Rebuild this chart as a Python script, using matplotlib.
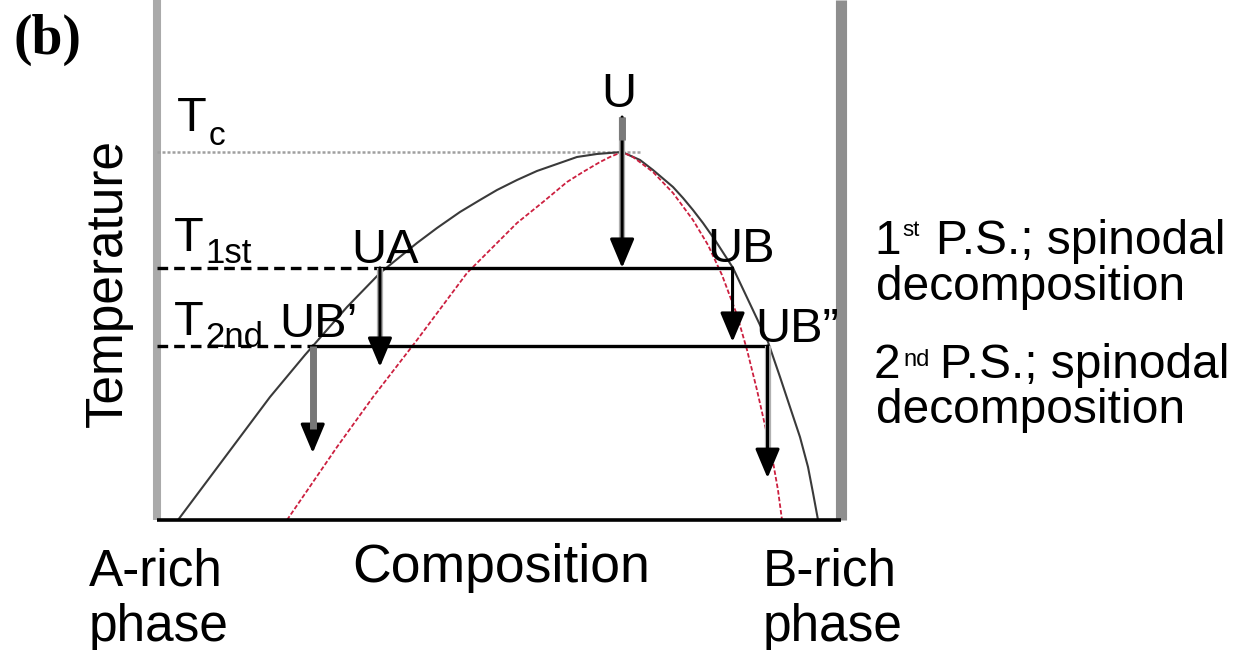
import matplotlib
matplotlib.use('Agg')
import matplotlib.pyplot as plt

plt.rcParams['font.family'] = ['Liberation Sans', 'DejaVu Sans']

W, H = 1247, 650

# binodal curve: composition (0-100) vs temperature (Tc = 100)
binodal_x = [3.06, 16.47, 21.57, 27.70, 32.51, 37.90, 40.82, 44.17, 47.08,
             49.56, 52.48, 55.39, 58.31, 61.22, 64.14, 67.78, 70.41, 72.30,
             75.22, 76.68, 78.13, 79.59, 81.34, 83.97, 89.07, 90.82, 92.27,
             93.73, 94.90, 95.63, 96.36]
binodal_t = [0, 33.42, 44.84, 57.88, 67.12, 75.27, 79.35, 83.70, 86.96,
             89.67, 92.39, 94.84, 96.74, 98.64, 99.46, 100, 97.83, 95.11,
             90.49, 87.50, 84.24, 80.71, 76.09, 68.48, 48.37, 38.86, 30.71,
             22.55, 14.40, 7.34, 0]

# spinodal curve
spinodal_x = [18.95, 26.24, 31.49, 37.90, 45.19, 49.27, 52.48, 56.27, 59.77,
              62.10, 64.58, 66.03, 67.78, 69.39, 72.30, 75.22, 78.13, 80.32,
              82.36, 84.55, 86.01, 87.46, 88.78, 89.80, 90.52, 91.11]
spinodal_t = [0, 19.84, 33.42, 48.91, 67.12, 74.73, 80.71, 86.41, 91.85,
              94.57, 97.28, 98.64, 100, 98.64, 94.57, 88.86, 81.52, 74.73,
              66.58, 55.71, 46.20, 35.33, 24.46, 15.76, 8.15, 0]

t_critical = 100
t_critical_end = 70.4

# quench temperatures and the compositions where the tie lines meet the binodal
quench_names = ['1st', '2nd']
quench_t = [68.5, 47.3]
tie_left = [32.5, 22.7]
tie_right = [83.9, 89.0]

# decomposition arrows: label, composition, start T, end T
arrow_labels = ['U', 'UA', 'UB', 'UB\u2019', 'UB\u201d']
arrow_x = [67.8, 32.5, 83.9, 22.7, 89.0]
arrow_start = [109.5, 68.5, 68.5, 47.3, 47.3]
arrow_end = [68.5, 41.6, 48.4, 18.2, 11.4]

t_top = 141.3
x_right = 99.7

fig = plt.figure(figsize=(W / 100, H / 100), dpi=100)
ax = fig.add_axes([157 / W, 130 / H, 686 / W, 520 / H])
ax.set_xlim(0, 100)
ax.set_ylim(0, t_top)
ax.axis('off')


def put(xp, yp, s, **kw):
    # place text by pixel position (origin top left)
    fig.text(xp / W, 1 - yp / H, s, **kw)


# frame: gray side bars and black composition axis
ax.plot([0, 0], [0, t_top], color='#aaaaaa', lw=5.8, clip_on=False,
        solid_capstyle='butt')
ax.plot([x_right, x_right], [0, t_top], color='#8e8e8e', lw=8, clip_on=False,
        solid_capstyle='butt')

# critical temperature
ax.plot([0, t_critical_end], [t_critical, t_critical], color='#a0a0a0',
        lw=1.8, ls=(0, (1.2, 0.8)))

ax.plot(binodal_x, binodal_t, color='#3a3a3a', lw=1.5, zorder=3)
ax.plot(spinodal_x, spinodal_t, color='#cc1f3f', lw=1.3,
        ls=(0, (2.5, 1.2)), zorder=3)

for t, xl, xr in zip(quench_t, tie_left, tie_right):
    ax.plot([0, xl], [t, t], color='black', lw=2.4, ls=(0, (3.2, 1.8)),
            zorder=4)
    ax.plot([xl, xr], [t, t], color='black', lw=2.4, zorder=4,
            solid_capstyle='butt')

ax.plot([0, x_right], [0, 0], color='black', lw=2.6, clip_on=False, zorder=5,
        solid_capstyle='butt')

# soft gray halo behind the arrow shafts
for i in [0, 1, 4]:
    ax.plot([arrow_x[i]] * 2, [arrow_start[i], arrow_end[i] + 6],
            color='#b0b0b0', lw=4.5, zorder=5, solid_capstyle='butt')

for lab, x, t0, t1 in zip(arrow_labels, arrow_x, arrow_start, arrow_end):
    ax.annotate('', xy=(x, t1), xytext=(x, t0),
                arrowprops=dict(arrowstyle='-|>,head_length=1.0,head_width=0.42',
                                mutation_scale=18, color='black', lw=2.2,
                                shrinkA=0, shrinkB=0), zorder=6)

# wide gray shaft on the UB' arrow and gray tail on U
ax.plot([arrow_x[3]] * 2, [arrow_start[3], arrow_end[3] + 6.5], color='#777777',
        lw=5, zorder=7, solid_capstyle='butt')
ax.plot([arrow_x[0]] * 2, [arrow_start[0], arrow_start[0] - 6.3], color='#7a7a7a',
        lw=5, zorder=7, solid_capstyle='butt')

lab_fs = 35
ax.annotate(arrow_labels[0], xy=(arrow_x[0], arrow_start[0]), xytext=(-3, 10),
            textcoords='offset pixels', ha='center', va='baseline', fontsize=lab_fs)
ax.annotate(arrow_labels[1], xy=(tie_left[0], quench_t[0]), xytext=(5, 5),
            textcoords='offset pixels', ha='center', va='baseline', fontsize=lab_fs)
ax.annotate(arrow_labels[2], xy=(tie_right[0], quench_t[0]), xytext=(9, 6),
            textcoords='offset pixels', ha='center', va='baseline', fontsize=lab_fs)
ax.annotate(arrow_labels[3], xy=(tie_left[1], quench_t[1]), xytext=(-33, 9),
            textcoords='offset pixels', ha='left', va='baseline', fontsize=lab_fs)
ax.annotate(arrow_labels[4], xy=(tie_right[1], quench_t[1]), xytext=(-12, 4),
            textcoords='offset pixels', ha='left', va='baseline', fontsize=lab_fs)

# temperature labels
put(177, 131, 'T', fontsize=35, va='baseline')
put(209, 145, 'c', fontsize=24, va='baseline')
put(174, 251, 'T', fontsize=35, va='baseline')
put(205, 263, quench_names[0], fontsize=25, va='baseline')
put(174, 335, 'T', fontsize=35, va='baseline')
put(205, 347, quench_names[1], fontsize=25, va='baseline')

put(13, 54, '(b)', fontsize=40, fontweight='bold', va='baseline',
    family='Liberation Serif')

fig.text(122 / W, 1 - 283 / H, 'Temperature', rotation=90, rotation_mode='anchor',
         ha='center', va='baseline', fontsize=37)

put(352, 582, 'Composition', fontsize=38.5, va='baseline')
put(89, 585, 'A-rich', fontsize=37, va='baseline')
put(89, 641, 'phase', fontsize=37, va='baseline')
put(763, 585, 'B-rich', fontsize=37, va='baseline')
put(763, 641, 'phase', fontsize=37, va='baseline')

# phase separation notes
side_fs = 34.5
put(874, 254, '1', fontsize=side_fs, va='baseline')
put(902, 236, 'st', fontsize=16, va='baseline')
put(936, 254, 'P.S.; spinodal', fontsize=side_fs, va='baseline')
put(876, 300, 'decomposition', fontsize=side_fs, va='baseline')
put(874, 378, '2', fontsize=side_fs, va='baseline')
put(903, 366, 'nd', fontsize=17, va='baseline')
put(940, 378, 'P.S.; spinodal', fontsize=side_fs, va='baseline')
put(876, 423, 'decomposition', fontsize=side_fs, va='baseline')

fig.savefig('out.png', dpi=100)
